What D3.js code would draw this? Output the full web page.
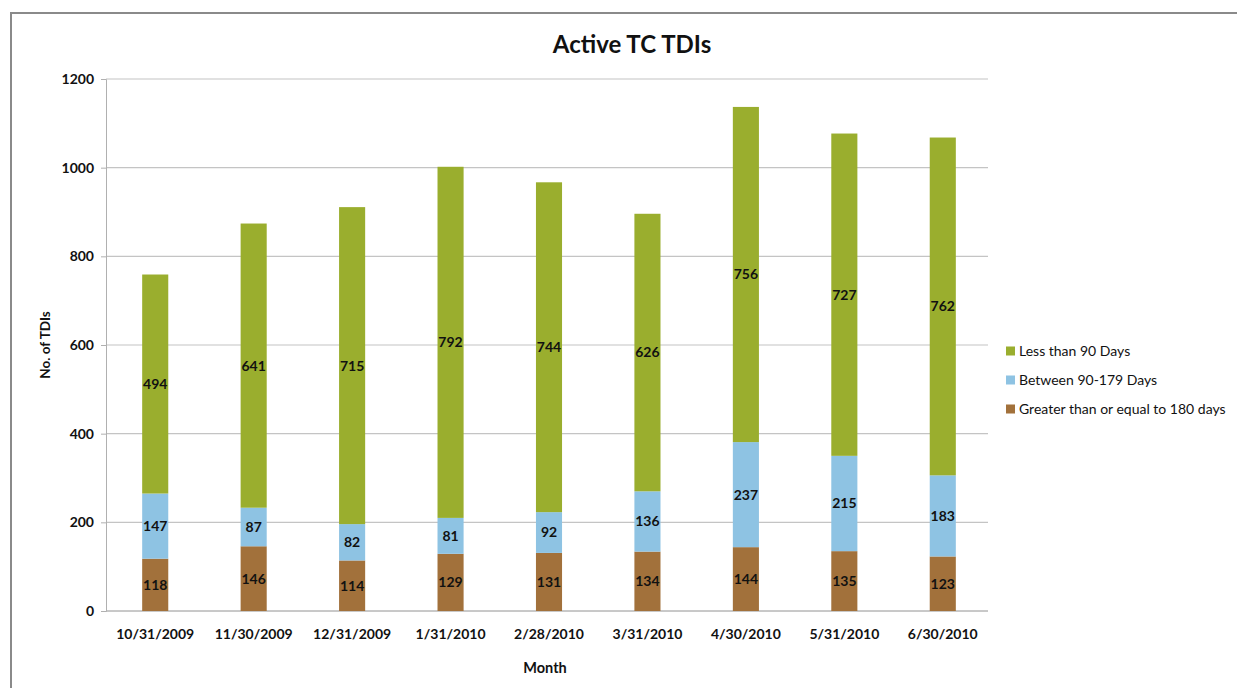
<!DOCTYPE html>
<html><head><meta charset="utf-8">
<script src="https://cdn.jsdelivr.net/npm/d3@7"></script>
<style>
body{margin:0;background:#fff;}
text{font-family:Lato,"Open Sans",sans-serif;}
</style></head><body>
<svg id="c" width="1237" height="688"></svg>
<script>
const categories = ["10/31/2009","11/30/2009","12/31/2009","1/31/2010","2/28/2010","3/31/2010","4/30/2010","5/31/2010","6/30/2010"];
const greaterThan180 = [118,146,114,129,131,134,144,135,123];
const between90_179 = [147,87,82,81,92,136,237,215,183];
const lessThan90 = [494,641,715,792,744,626,756,727,762];
const seriesNames = ["Greater than or equal to 180 days","Between 90-179 Days","Less than  90 Days"];
const seriesColors = ["#a2713b","#8ec3e3","#9aae2e"];
const yTicks = [0,200,400,600,800,1000,1200];

const svg = d3.select("#c");
svg.append("rect").attr("x",11).attr("y",13).attr("width",1240).attr("height",690)
  .attr("fill","#fff").attr("stroke","#8a8a8a").attr("stroke-width",2);

const x = d3.scaleBand().domain(categories).range([106,992]).paddingInner(0.735).paddingOuter(0.3675);
const y = d3.scaleLinear().domain([0,1200]).range([611,79]);

// gridlines
svg.append("g").selectAll("line").data(yTicks).join("line")
  .attr("x1",106).attr("x2",988).attr("y1",d=>y(d)).attr("y2",d=>y(d))
  .attr("stroke","#c4c4c4").attr("stroke-width",1.2);

// y axis
const ya = svg.append("g").attr("transform","translate(106,0)")
  .call(d3.axisLeft(y).tickValues(yTicks).tickSize(5).tickPadding(7).tickFormat(d3.format("d")));
ya.select(".domain").attr("stroke","#b0b0b0");
ya.selectAll(".tick line").attr("stroke","#b0b0b0");
ya.selectAll("text").attr("font-size",14).attr("font-weight","bold").attr("fill","#111");

// x axis
const xa = svg.append("g").attr("transform","translate(0,611)")
  .call(d3.axisBottom(x).tickSize(0).tickPadding(18));
xa.select(".domain").attr("stroke","#b0b0b0").attr("d","M106,0H988");
xa.selectAll("text").attr("font-size",14).attr("font-weight","bold").attr("fill","#111");

const rows = categories.map((c,i)=>({cat:c, v:[greaterThan180[i],between90_179[i],lessThan90[i]]}));
const stack = d3.stack().keys([0,1,2]).value((d,k)=>d.v[k])(rows);

const g = svg.append("g");
stack.forEach((layer,k)=>{
  g.selectAll(null).data(layer).join("rect")
    .attr("x",d=>x(d.data.cat)).attr("width",x.bandwidth())
    .attr("y",d=>y(d[1])).attr("height",d=>y(d[0])-y(d[1]))
    .attr("fill",seriesColors[k]);
});
stack.forEach((layer,k)=>{
  g.selectAll(null).data(layer).join("text")
    .attr("x",d=>x(d.data.cat)+x.bandwidth()/2)
    .attr("y",d=>(y(d[0])+y(d[1]))/2)
    .attr("dy","0.35em").attr("text-anchor","middle")
    .attr("font-size",14).attr("font-weight","bold").attr("fill","#111")
    .text(d=>d.data.v[k]);
});

// title
svg.append("text").attr("x",632).attr("y",53).attr("text-anchor","middle")
  .attr("font-size",24).attr("font-weight","bold").attr("fill","#111").text("Active TC TDIs");
// axis titles
svg.append("text").attr("transform","translate(50,345) rotate(-90)").attr("text-anchor","middle")
  .attr("font-size",13.5).attr("font-weight","bold").attr("fill","#111").text("No. of TDIs");
svg.append("text").attr("x",545).attr("y",673).attr("text-anchor","middle")
  .attr("font-size",14.5).attr("font-weight","bold").attr("fill","#111").text("Month");

// legend
const legOrder = [2,1,0];
const lg = svg.append("g");
legOrder.forEach((k,i)=>{
  const ly = 351 + i*29;
  lg.append("rect").attr("x",1006).attr("y",ly-4.5).attr("width",9).attr("height",9).attr("fill",seriesColors[k]);
  lg.append("text").attr("x",1019).attr("y",ly).attr("dy","0.35em")
    .attr("font-size",14).attr("fill","#111").text(seriesNames[k]);
});
</script>
</body></html>
